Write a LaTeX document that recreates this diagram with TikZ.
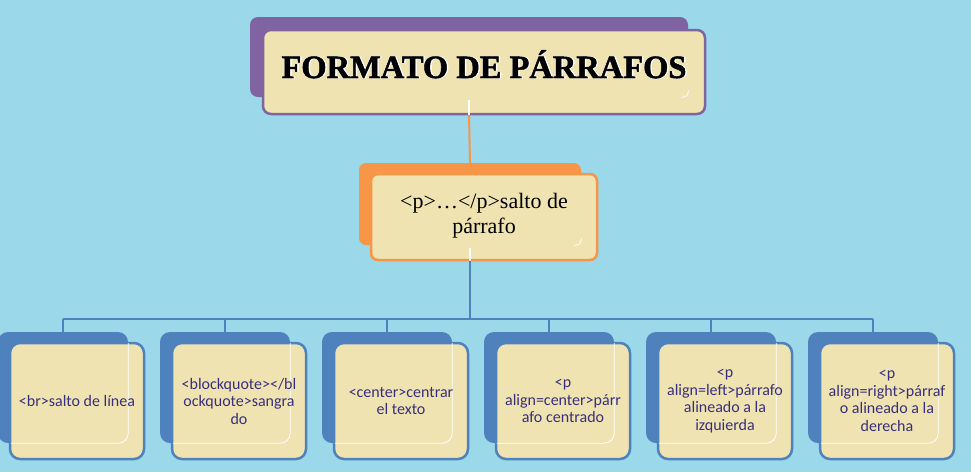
\documentclass[tikz,border=0pt]{standalone}
\usepackage{fontspec}
\setmainfont{Liberation Serif}
\newfontfamily\titlef{Liberation Serif}[BoldFeatures={FakeBold=1.5}]
\newfontfamily\calib{Carlito}
\definecolor{bg}{HTML}{9AD8EA}
\definecolor{cream}{HTML}{EFE3B1}
\definecolor{purp}{HTML}{8064A2}
\definecolor{orng}{HTML}{F79646}
\definecolor{blu}{HTML}{4F81BD}
\definecolor{txtb}{HTML}{3A2F7C}
\begin{document}
\begin{tikzpicture}[x=1pt,y=-1pt,
  backbox/.style={rectangle, rounded corners=#1, inner sep=0pt, draw=none},
  frontbox/.style={rectangle, rounded corners=#1, inner sep=0pt, fill=cream, line width=2.5pt},
  hilite/.style={draw=white, line width=0.8pt},
  smalltxt/.style={font=\calib\fontsize{16}{17.5}\selectfont, text=txtb, align=center, inner sep=0pt},
  bus/.style={draw=blu, line width=2.2pt}]
\fill[bg] (0,0) rectangle (971,472);
\useasboundingbox (0,0) rectangle (971,472);

% ---- top box
\node[backbox=8pt, fill=purp, minimum width=438pt, minimum height=80pt] (tb) at (469,57) {};
\node[frontbox=8pt, draw=purp, minimum width=442pt, minimum height=84pt] (tf) at (484,72) {};
\draw[hilite, rounded corners=5pt] ([yshift=7pt]tb.south east) |- ([xshift=-7pt]tb.south east);
\node[anchor=base, font=\titlef\fontsize{32.5}{32}\selectfont\bfseries, text=white, inner sep=0pt] (tts) at (485.5,78) {FORMATO DE PÁRRAFOS};
\node[anchor=base, font=\titlef\fontsize{32.5}{32}\selectfont\bfseries, text=black, inner sep=0pt] (tt) at (484,78) {FORMATO DE PÁRRAFOS};

% ---- middle box
\node[backbox=7pt, fill=orng, minimum width=222pt, minimum height=82pt] (mb) at (470,204) {};
\node[frontbox=7pt, draw=orng, minimum width=226pt, minimum height=86pt] (mf) at (484,217) {};
\draw[hilite, rounded corners=5pt] ([yshift=7pt]mb.south east) |- ([xshift=-7pt]mb.south east);
\node[font=\fontsize{22}{25}\selectfont, align=center, inner sep=0pt] (mt) at (484,216) {<p>…</p>salto de\\párrafo};

% ---- connectors top -> middle
\draw[white, line width=2pt] ([yshift=-3pt]tb.south) -- (tb.south |- tf.south);
\draw[orng, line width=2pt] (tb.south |- tf.south) -- (mb.north);
\draw[white, line width=2pt] ([yshift=-3pt]mb.south) -- (mb.south |- mf.south);

% ---- bottom boxes
\foreach \i/\bx/\txt in {
  1/63/{<br>salto de línea},
  2/225/{<blockquote></bl\\ockquote>sangra\\do},
  3/387/{<center>centrar\\el texto},
  4/549/{<p\\align=center>párr\\afo centrado},
  5/711/{<p\\align=left>párrafo\\alineado a la\\izquierda},
  6/873/{<p\\align=right>párraf\\o alineado a la\\derecha}}{
  \node[backbox=10pt, fill=blu, minimum width=130pt, minimum height=111pt] (b\i) at (\bx,387.5) {};
  \node[frontbox=10pt, draw=blu, minimum width=134pt, minimum height=116pt] (f\i) at (\bx+14,401) {};
  \begin{scope}
    \clip ([shift={(2pt,-2pt)}]f\i.north west) rectangle ([shift={(-2pt,2pt)}]f\i.south east);
    \draw[hilite, rounded corners=10pt] (b\i.north west) rectangle (b\i.south east);
  \end{scope}
  \node[smalltxt] (t\i) at (\bx+14,401) {\txt};
}

% ---- bus from middle to bottom
\coordinate (busc) at (470,319);
\draw[bus] (mb.south |- mf.south) -- (busc);
\draw[bus] (b1.north |- busc) -- (b6.north |- busc);
\foreach \i in {1,...,6}{
  \draw[bus] (b\i.north |- busc) -- (b\i.north);
}
\end{tikzpicture}
\end{document}
